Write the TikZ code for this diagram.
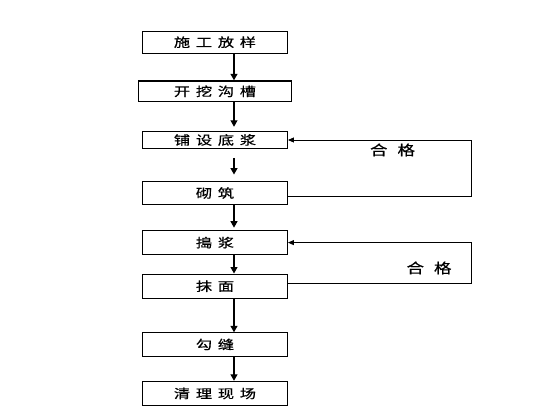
\documentclass[tikz,border=0pt]{standalone}
\usepackage{fontspec}
\newfontfamily\cjk[FakeBold=0.6]{Noto Sans CJK SC}
\usetikzlibrary{arrows.meta}
\newcommand\gp{\hspace{4.4pt}}
\newcommand\gq{\hspace{8pt}}
\newcommand\bt[1]{\scalebox{1.3}[1]{#1}}
\begin{document}
\begin{tikzpicture}[x=1pt,y=-1pt,
  stepbox/.style={draw, line width=0.9pt, inner sep=0pt, minimum width=145pt,
    font=\cjk\fontsize{12.5}{12.5}\selectfont},
  arr/.style={line width=1.2pt, -{Triangle[length=6.5pt,width=7pt]}},
  fb/.style={line width=0.9pt, -{Triangle[length=6pt,width=5pt]}},
  lbl/.style={font=\cjk\fontsize{14}{14}\selectfont, inner sep=0pt}]
\useasboundingbox (0,0) rectangle (560,420);
\node[stepbox, minimum height=22.3pt] (b1) at (215,42.2) {\bt{施\gp 工\gp 放\gp 样}};
\node[stepbox, minimum height=20.7pt, minimum width=153.4pt, line width=1.3pt] (b2) at (215,91.3) {\bt{开\gp 挖\gp 沟\gp 槽}};
\node[stepbox, minimum height=16.6pt] (b3) at (215,140) {\bt{铺\gp 设\gp 底\gp 浆}};
\node[stepbox, minimum height=23pt] (b4) at (215,193) {\bt{砌\gp 筑}};
\node[stepbox, minimum height=24pt] (b5) at (215,242.6) {\bt{搗\gp 浆}};
\node[stepbox, minimum height=24.5pt] (b6) at (215,286.2) {\bt{抹\gp 面}};
\node[stepbox, minimum height=23.3pt] (b7) at (215,344.4) {\bt{勾\gp 缝}};
\node[stepbox, minimum height=24.5pt] (b8) at (215,393.5) {\bt{清\gp 理\gp 现\gp 场}};
\coordinate (c1) at (471,0);
\node[lbl] (l1) at (392.5,150) {\scalebox{1.25}[1]{合\gq 格}};
\node[lbl] (l2) at (429,268) {\scalebox{1.25}[1]{合\gq 格}};
\draw[arr] ([xshift=19pt]b1.south) -- ([xshift=19pt]b2.north);
\draw[arr] ([xshift=19pt]b2.south) -- ([xshift=19pt,yshift=4.5pt]b3.north);
\draw[arr] ([xshift=19pt,yshift=-9pt]b3.south) -- ([xshift=19pt,yshift=6.5pt]b4.north);
\draw[arr] ([xshift=19pt]b4.south) -- ([xshift=19pt,yshift=2.5pt]b5.north);
\draw[arr] ([xshift=19pt]b5.south) -- ([xshift=19pt]b6.north);
\draw[arr] ([xshift=19pt]b6.south) -- ([xshift=19pt]b7.north);
\draw[arr] ([xshift=19pt]b7.south) -- ([xshift=19pt]b8.north);
\draw[fb] ([yshift=-3pt]b4.east) -- ([yshift=-3pt]b4.east -| c1) -- (c1 |- b3.east) -- (b3.east);
\draw[fb] ([yshift=3pt]b6.east) -- ([yshift=3pt]b6.east -| c1) -- (c1 |- b5.east) -- (b5.east);
\end{tikzpicture}
\end{document}
